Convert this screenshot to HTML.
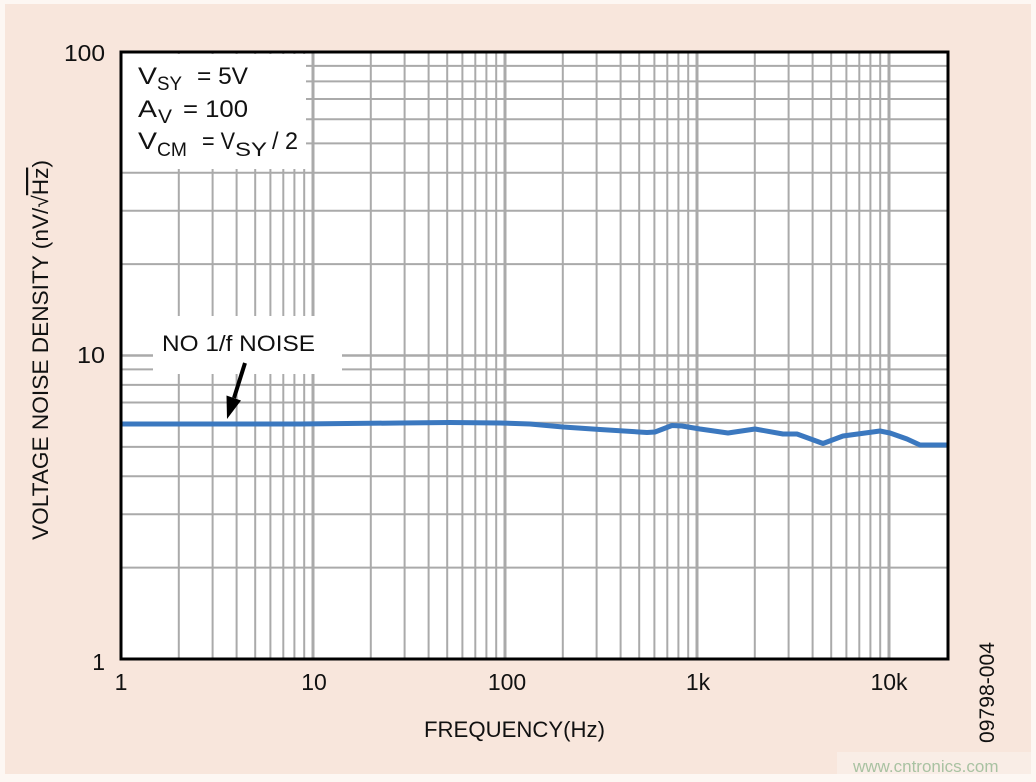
<!DOCTYPE html>
<html>
<head>
<meta charset="utf-8">
<style>
  html,body{margin:0;padding:0;background:#fdf6f2;}
  svg{display:block;}
  text{font-family:"Liberation Sans","DejaVu Sans",sans-serif;fill:#111;}
</style>
</head>
<body>
<svg width="1036" height="782" viewBox="0 0 1036 782" xmlns="http://www.w3.org/2000/svg">
  <!-- page background -->
  <rect x="0" y="0" width="1036" height="782" fill="#fdf7f3"/>
  <rect x="5" y="4" width="1026" height="770" fill="#f8e6dc"/>
  <!-- watermark box -->
  <rect x="837" y="752" width="194" height="22" fill="#f9ede6"/>
  <text x="853" y="772" font-size="17" style="fill:#a9c2a2">www.cntronics.com</text>

  <!-- plot area -->
  <rect x="121" y="52" width="827" height="607" fill="#ffffff"/>

  <g stroke="#aaaaaa" stroke-width="2" fill="none">
    <line x1="121" y1="567.6" x2="948" y2="567.6"/>
    <line x1="121" y1="514.2" x2="948" y2="514.2"/>
    <line x1="121" y1="476.3" x2="948" y2="476.3"/>
    <line x1="121" y1="446.9" x2="948" y2="446.9"/>
    <line x1="121" y1="422.8" x2="948" y2="422.8"/>
    <line x1="121" y1="402.5" x2="948" y2="402.5"/>
    <line x1="121" y1="384.9" x2="948" y2="384.9"/>
    <line x1="121" y1="369.4" x2="948" y2="369.4"/>
    <line x1="121" y1="264.1" x2="948" y2="264.1"/>
    <line x1="121" y1="210.7" x2="948" y2="210.7"/>
    <line x1="121" y1="172.8" x2="948" y2="172.8"/>
    <line x1="121" y1="143.4" x2="948" y2="143.4"/>
    <line x1="121" y1="119.3" x2="948" y2="119.3"/>
    <line x1="121" y1="99.0" x2="948" y2="99.0"/>
    <line x1="121" y1="81.4" x2="948" y2="81.4"/>
    <line x1="121" y1="65.9" x2="948" y2="65.9"/>
    <line x1="121" y1="355.5" x2="948" y2="355.5" stroke-width="2.5"/>
  </g>
  <g stroke="#aaaaaa" stroke-width="2" fill="none">
    <line x1="178.8" y1="52" x2="178.8" y2="659"/>
    <line x1="212.6" y1="52" x2="212.6" y2="659"/>
    <line x1="236.6" y1="52" x2="236.6" y2="659"/>
    <line x1="255.2" y1="52" x2="255.2" y2="659"/>
    <line x1="270.4" y1="52" x2="270.4" y2="659"/>
    <line x1="283.3" y1="52" x2="283.3" y2="659"/>
    <line x1="294.4" y1="52" x2="294.4" y2="659"/>
    <line x1="304.2" y1="52" x2="304.2" y2="659"/>
    <line x1="313" y1="52" x2="313" y2="659" stroke-width="3"/>
    <line x1="370.8" y1="52" x2="370.8" y2="659"/>
    <line x1="404.6" y1="52" x2="404.6" y2="659"/>
    <line x1="428.6" y1="52" x2="428.6" y2="659"/>
    <line x1="447.2" y1="52" x2="447.2" y2="659"/>
    <line x1="462.4" y1="52" x2="462.4" y2="659"/>
    <line x1="475.3" y1="52" x2="475.3" y2="659"/>
    <line x1="486.4" y1="52" x2="486.4" y2="659"/>
    <line x1="496.2" y1="52" x2="496.2" y2="659"/>
    <line x1="505" y1="52" x2="505" y2="659" stroke-width="3"/>
    <line x1="562.8" y1="52" x2="562.8" y2="659"/>
    <line x1="596.6" y1="52" x2="596.6" y2="659"/>
    <line x1="620.6" y1="52" x2="620.6" y2="659"/>
    <line x1="639.2" y1="52" x2="639.2" y2="659"/>
    <line x1="654.4" y1="52" x2="654.4" y2="659"/>
    <line x1="667.3" y1="52" x2="667.3" y2="659"/>
    <line x1="678.4" y1="52" x2="678.4" y2="659"/>
    <line x1="688.2" y1="52" x2="688.2" y2="659"/>
    <line x1="697" y1="52" x2="697" y2="659" stroke-width="3"/>
    <line x1="754.8" y1="52" x2="754.8" y2="659"/>
    <line x1="788.6" y1="52" x2="788.6" y2="659"/>
    <line x1="812.6" y1="52" x2="812.6" y2="659"/>
    <line x1="831.2" y1="52" x2="831.2" y2="659"/>
    <line x1="846.4" y1="52" x2="846.4" y2="659"/>
    <line x1="859.3" y1="52" x2="859.3" y2="659"/>
    <line x1="870.4" y1="52" x2="870.4" y2="659"/>
    <line x1="880.2" y1="52" x2="880.2" y2="659"/>
    <line x1="889" y1="52" x2="889" y2="659" stroke-width="3"/>
  </g>

  <!-- white label boxes -->
  <rect x="122" y="54" width="184" height="115" fill="#ffffff"/>
  <rect x="153" y="316" width="189" height="58" fill="#ffffff"/>

  <!-- curve -->
  <polyline fill="none" stroke="#3b78bf" stroke-width="5" stroke-linejoin="round" stroke-linecap="butt"
    points="121,424 300,424 400,423 450,422.5 500,423 530,424 563,427 600,429.5 647,432.5 655,432 672,425.5 682,426 700,429 728,433 755,429 783,434 797,434 823,443.5 843,436 880,431 890,433 907,439 920,445 947,445"/>

  <!-- plot frame -->
  <rect x="121" y="52" width="827" height="607" fill="none" stroke="#000" stroke-width="3"/>

  <!-- condition text -->
  <g font-size="24">
    <text x="138" y="84" textLength="19" lengthAdjust="spacingAndGlyphs">V</text>
    <text x="157" y="90" font-size="19" textLength="25" lengthAdjust="spacingAndGlyphs">SY</text>
    <text x="197" y="84" textLength="51" lengthAdjust="spacingAndGlyphs">= 5V</text>

    <text x="138" y="117" textLength="19" lengthAdjust="spacingAndGlyphs">A</text>
    <text x="158" y="123" font-size="19" textLength="14" lengthAdjust="spacingAndGlyphs">V</text>
    <text x="183" y="117" textLength="65" lengthAdjust="spacingAndGlyphs">= 100</text>

    <text x="138" y="149" textLength="19" lengthAdjust="spacingAndGlyphs">V</text>
    <text x="157" y="156" font-size="19" textLength="30" lengthAdjust="spacingAndGlyphs">CM</text>
    <text x="202" y="149" textLength="33" lengthAdjust="spacingAndGlyphs">= V</text>
    <text x="235" y="156" font-size="19" textLength="32" lengthAdjust="spacingAndGlyphs">SY</text>
    <text x="272" y="149" textLength="26" lengthAdjust="spacingAndGlyphs">/ 2</text>
  </g>

  <!-- annotation -->
  <text x="162" y="351" font-size="22" textLength="153" lengthAdjust="spacingAndGlyphs">NO 1/f NOISE</text>
  <line x1="245" y1="363" x2="234" y2="398" stroke="#000" stroke-width="4"/>
  <polygon points="227,419 226.5,395.5 241,400.5" fill="#000"/>

  <!-- y tick labels -->
  <g font-size="23" text-anchor="end">
    <text x="105" y="61" textLength="41" lengthAdjust="spacingAndGlyphs">100</text>
    <text x="105" y="363" textLength="28" lengthAdjust="spacingAndGlyphs">10</text>
    <text x="105" y="670">1</text>
  </g>
  <!-- x tick labels -->
  <g font-size="23" text-anchor="middle">
    <text x="121" y="690">1</text>
    <text x="314" y="690">10</text>
    <text x="507" y="690">100</text>
    <text x="698" y="690">1k</text>
    <text x="889" y="690">10k</text>
  </g>

  <!-- axis titles -->
  <text x="424" y="737" font-size="22" textLength="181" lengthAdjust="spacingAndGlyphs">FREQUENCY(Hz)</text>
  <text transform="translate(48,540) rotate(-90)" font-size="22" textLength="380" lengthAdjust="spacingAndGlyphs">VOLTAGE NOISE DENSITY (nV/√<tspan style="text-decoration:overline">Hz</tspan>)</text>
  <text transform="translate(994,743) rotate(-90)" font-size="21" textLength="101" lengthAdjust="spacingAndGlyphs">09798-004</text>
</svg>
</body>
</html>
